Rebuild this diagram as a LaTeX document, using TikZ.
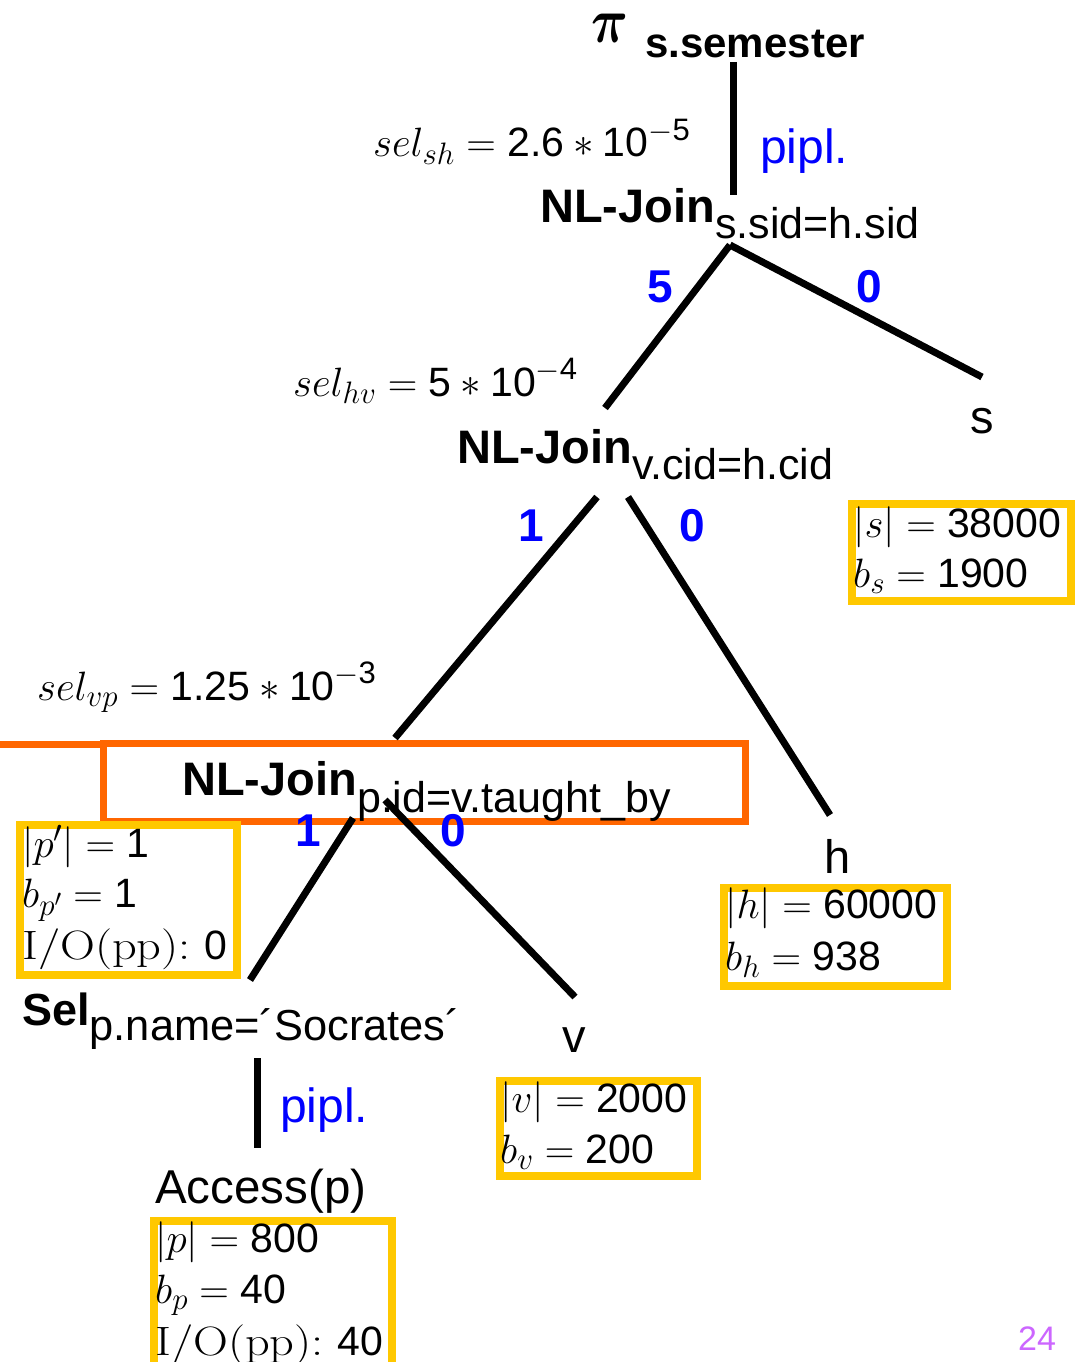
\documentclass[tikz,border=0pt]{standalone}
\usepackage{fix-cm}
\usepackage{amsmath}
\usepackage{graphicx}
\usepackage[no-math]{fontspec}
\setmainfont{Liberation Sans}
\newfontfamily\lmrfont{Latin Modern Roman}
\definecolor{boxyellow}{HTML}{FFC800}
\definecolor{boxorange}{HTML}{FF6600}
\definecolor{pagevio}{HTML}{CC66FF}
\newcommand\fsz[1]{\fontsize{#1}{#1}\selectfont}
\newcommand\nm[1]{\text{#1}}
\DeclareMathSizes{41}{41}{31}{24}
\newcommand\iopp{\scalebox{1.18}[1]{\lmrfont I/O(pp):}\hspace{14pt}}
\begin{document}
\begin{tikzpicture}[
 x=1pt, y=-1pt,
 edge/.style={line width=7pt, black},
 txt/.style={inner sep=0pt, anchor=base west},
 ctxt/.style={inner sep=0pt, anchor=base},
 blu/.style={inner sep=0pt, anchor=base, text=blue, font=\fsz{46}\bfseries},
 pipl/.style={inner sep=0pt, anchor=base west, text=blue, font=\fsz{48}},
 ybox/.style={draw=boxyellow, line width=7.5pt, inner sep=0pt, anchor=north west},
 stat/.style={inner sep=0pt, anchor=base west, font=\fsz{41}},
 mlab/.style={inner sep=0pt, anchor=base west, font=\fsz{41}},
]
\useasboundingbox (0,0) rectangle (1082,1362);
\fill[white] (0,0) rectangle (1082,1362);

% boxes
\node[draw=boxorange, line width=7pt, inner sep=0pt, anchor=north west,
      minimum width=642pt, minimum height=78pt] (ob) at (100,740) {};
\coordinate (oL) at (0,744);
\draw[draw=boxorange, line width=7pt] (oL) -- ([yshift=-4pt]ob.north west);

\node[ybox, minimum width=219pt, minimum height=97pt] (sbox) at (848,500) {};
\node[ybox, minimum width=217pt, minimum height=150pt] (ppbox) at (16,821) {};
\node[ybox, minimum width=223pt, minimum height=98pt] (hbox) at (720,884) {};
\node[ybox, minimum width=197pt, minimum height=95pt] (vbox) at (496,1077) {};
\node[ybox, minimum width=238pt, minimum height=160pt] (pbox) at (150,1217) {};

% tree nodes
\node[ctxt] (pi) at (610,43) {\scalebox{0.8}[1]{\fsz{64}$\boldsymbol{\pi}$}};
\node[ctxt, font=\fsz{42}\bfseries] (proj) at (755,58) {s.semester};
\node[txt] (j1) at (540,222) {{\fsz{47}\bfseries NL-Join}\raisebox{-16pt}{\fsz{43}s.sid=h.sid}};
\node[txt] (j2) at (457,463) {{\fsz{47}\bfseries NL-Join}\raisebox{-16pt}{\fsz{43}v.cid=h.cid}};
\node[txt] (j3) at (182,795) {{\fsz{47}\bfseries NL-Join}\raisebox{-17pt}{\fsz{43}p.id=v.taught\_by}};
\node[txt] (sel) at (22,1025) {{\fsz{45}\bfseries Sel}\raisebox{-15pt}{\fsz{43.4}p.name=´Socrates´}};
\node[txt, font=\fsz{47.5}] (acc) at (155,1203) {Access(p)};
\node[ctxt, font=\fsz{47}] (s) at (982,433) {s};
\node[ctxt, font=\fsz{47}] (h) at (838,873) {h};
\node[ctxt, font=\fsz{47}] (v) at (574,1052) {v};

% connector end points
\coordinate (e0a) at (733,62);
\coordinate (e0b) at (733,195);
\coordinate (e1) at (730,245);
\coordinate (e2) at (605,408);
\coordinate (e3) at (982,377);
\coordinate (e4) at (597,497);
\coordinate (e5) at (395,738);
\coordinate (e6) at (628,497);
\coordinate (e7) at (830,815);
\coordinate (e8) at (353,818);
\coordinate (e9) at (250,980);
\coordinate (e10) at (385,800);
\coordinate (e11) at (575,997);
\coordinate (e12) at (257,1058);
\coordinate (e13) at (257,1148);

\draw[edge] (e0a) -- (e0b);
\draw[edge] (e1) -- (e2);
\draw[edge] (e1) -- (e3);
\draw[edge] (e4) -- (e5);
\draw[edge] (e6) -- (e7);
\draw[edge] (e8) -- (e9);
\draw[edge] (e10) -- (e11);
\draw[edge] (e12) -- (e13);

% pipelining labels
\node[pipl] (pp1) at (760,163) {pipl.};
\node[pipl] (pp2) at (280,1122) {pipl.};

% selectivities
\node[mlab] (selsh) at (373,157) {$sel_{sh} = \nm{2.6} * \nm{10}^{-\nm{5}}$};
\node[mlab] (selhv) at (293,396) {$sel_{hv} = \nm{5} * \nm{10}^{-\nm{4}}$};
\node[mlab] (selvp) at (37,700) {$sel_{vp} = \nm{1.25} * \nm{10}^{-\nm{3}}$};

% blue numbers
\node[blu] (n1) at (660,302) {5};
\node[blu] (n2) at (869,302) {0};
\node[blu] (n3) at (531,541) {1};
\node[blu] (n4) at (692,541) {0};
\node[blu] (n5) at (308,846) {1};
\node[blu] (n6) at (453,846) {0};

% statistics
\node[stat] (st1) at (853,537) {$|s| = \nm{38000}$};
\node[stat] (st2) at (853,587) {$b_s = \nm{1900}$};
\node[stat] (st3) at (22,857) {$|p'| = \nm{1}$};
\node[stat] (st4) at (22,907) {$b_{p'} = \nm{1}$};
\node[stat] (st5) at (22,959) {\iopp 0};
\node[stat] (st6) at (725,918) {$|h| = \nm{60000}$};
\node[stat] (st7) at (725,970) {$b_h = \nm{938}$};
\node[stat] (st8) at (500,1112) {$|v| = \nm{2000}$};
\node[stat] (st9) at (500,1163) {$b_v = \nm{200}$};
\node[stat] (st10) at (155,1252) {$|p| = \nm{800}$};
\node[stat] (st11) at (155,1303) {$b_p = \nm{40}$};
\node[stat] (st12) at (155,1355) {\iopp 40};

\node[ctxt, text=pagevio, font=\fsz{34}] (pg) at (1037,1350) {24};
\end{tikzpicture}
\end{document}
